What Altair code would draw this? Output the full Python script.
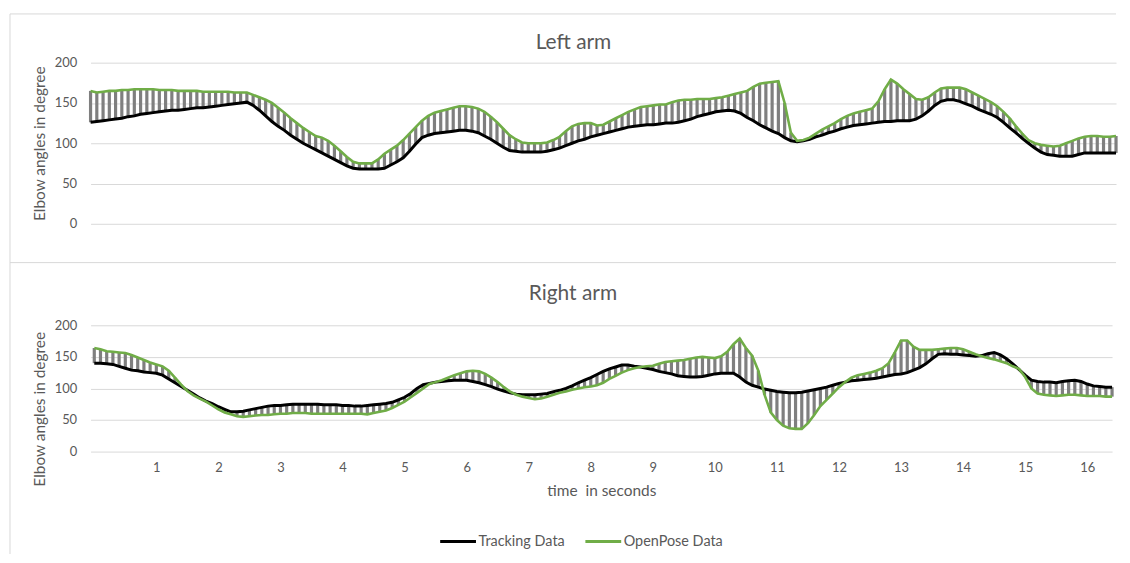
import altair as alt
import pandas as pd

# sampling grid (seconds)
time_s = [i / 10 for i in range(165)]

left_tracking = [
    126, 127, 128, 129, 130, 131, 133, 134, 136, 137,
    138, 139, 140, 141, 141, 142, 143, 144, 144, 145,
    146, 147, 148, 149, 150, 151, 147, 141, 134, 127,
    121, 116, 110, 105, 100, 96, 92, 88, 84, 80,
    76, 72, 69, 68, 68, 68, 68, 69, 73, 77,
    82, 90, 99, 107, 110, 112, 113, 114, 115, 116,
    116, 115, 113, 109, 105, 100, 95, 91, 90, 89,
    89, 89, 89, 90, 92, 94, 97, 100, 103, 105,
    108, 110, 112, 114, 116, 118, 120, 121, 122, 123,
    123, 124, 125, 125, 126, 128, 130, 133, 135, 137,
    139, 140, 141, 140, 137, 132, 128, 123, 119, 115,
    112, 107, 103, 102, 103, 105, 108, 110, 113, 115,
    118, 120, 122, 123, 124, 125, 126, 127, 127, 128,
    128, 128, 130, 134, 140, 147, 152, 154, 154, 152,
    149, 146, 142, 139, 136, 132, 126, 119, 113, 106,
    100, 94, 89, 86, 85, 84, 84, 84, 86, 88,
    88, 88, 88, 88, 88,
]

left_openpose = [
    165, 163, 164, 165, 165, 166, 166, 167, 167, 167,
    167, 166, 166, 166, 165, 165, 165, 165, 164, 164,
    164, 164, 164, 163, 163, 163, 160, 157, 154, 150,
    144, 138, 131, 125, 119, 114, 109, 107, 103, 97,
    90, 83, 77, 75, 75, 75, 80, 87, 92, 97,
    104, 112, 120, 128, 134, 138, 140, 142, 144, 146,
    146, 145, 143, 139, 133, 126, 118, 110, 105, 101,
    100, 100, 100, 101, 104, 108, 115, 121, 124, 125,
    125, 122, 123, 127, 131, 135, 139, 142, 145, 146,
    147, 148, 148, 151, 153, 154, 154, 155, 155, 155,
    156, 157, 159, 161, 163, 165, 170, 174, 175, 176,
    177, 150, 113, 103, 104, 107, 112, 117, 121, 125,
    130, 134, 137, 139, 141, 143, 152, 167, 179, 174,
    167, 161, 155, 154, 157, 163, 168, 169, 169, 169,
    167, 163, 159, 155, 151, 146, 139, 131, 121, 112,
    104, 100, 98, 97, 96, 97, 100, 103, 106, 108,
    109, 109, 108, 108, 109,
]

right_tracking = [
    140, 140, 139, 138, 135, 132, 129, 128, 126, 125,
    124, 121, 115, 109, 103, 97, 91, 85, 80, 76,
    71, 67, 63, 63, 64, 66, 68, 70, 72, 73,
    73, 74, 75, 75, 75, 75, 75, 74, 74, 74,
    73, 73, 72, 72, 73, 74, 75, 76, 78, 82,
    86, 92, 100, 106, 108, 110, 111, 112, 113, 113,
    113, 111, 109, 106, 103, 99, 96, 93, 91, 90,
    90, 90, 91, 92, 95, 97, 100, 104, 109, 113,
    117, 122, 127, 131, 134, 137, 137, 135, 134, 132,
    130, 127, 125, 123, 120, 119, 118, 118, 119, 121,
    123, 124, 124, 124, 118, 110, 105, 102, 99, 97,
    95, 94, 93, 93, 94, 96, 98, 100, 102, 105,
    108, 110, 112, 113, 114, 115, 116, 118, 120, 122,
    123, 125, 129, 133, 139, 147, 154, 155, 154, 154,
    153, 152, 151, 152, 155, 157, 153, 147, 139, 130,
    121, 113, 111, 110, 110, 109, 111, 112, 113, 111,
    107, 104, 103, 102, 102,
]

right_openpose = [
    164, 162, 159, 158, 157, 156, 153, 149, 145, 141,
    138, 135, 128, 117, 106, 96, 89, 84, 79, 73,
    67, 62, 59, 56, 55, 56, 57, 58, 58, 59,
    60, 60, 61, 61, 61, 60, 60, 60, 60, 60,
    60, 60, 60, 60, 59, 61, 63, 65, 69, 74,
    79, 86, 93, 100, 107, 110, 113, 117, 121, 124,
    127, 128, 127, 123, 117, 110, 102, 95, 90, 87,
    85, 83, 84, 87, 90, 93, 95, 98, 100, 102,
    103, 105, 109, 115, 120, 125, 129, 132, 134, 135,
    136, 139, 142, 143, 144, 145, 147, 149, 150, 149,
    148, 151, 158, 170, 179, 164, 152, 128, 90, 62,
    50, 41, 37, 36, 36, 45, 58, 72, 82, 92,
    102, 110, 117, 121, 123, 125, 128, 132, 140, 157,
    176, 176, 166, 161, 161, 161, 162, 163, 164, 164,
    162, 158, 154, 151, 148, 146, 143, 140, 135, 131,
    118, 100, 92, 90, 89, 88, 89, 90, 90, 89,
    88, 88, 88, 87, 87,
]

series_names = ["Tracking Data", "OpenPose Data"]
series_colors = ["#000000", "#70ad47"]
y_ticks = [0, 50, 100, 150, 200]
x_ticks = list(range(1, 17))

TEXT = "#595959"
GRID = "#d9d9d9"
FONT = "Lato"

color = alt.Color(
    "series:N",
    scale=alt.Scale(domain=series_names, range=series_colors),
    legend=alt.Legend(
        title=None, orient="none", legendX=350, legendY=462, direction="horizontal",
        symbolType="stroke", symbolSize=1296, symbolStrokeWidth=3,
        labelFontSize=14.5, labelFont=FONT, labelColor=TEXT,
        columnPadding=14, labelOffset=1, padding=0,
    ),
)


def panel(track, pose, title, width, height, x_domain, x_axis, y_axis, t_offset, t_dx, extra):
    wide = pd.DataFrame({"t": time_s, "track": track, "pose": pose})
    tr = pd.DataFrame({"t": time_s, "angle": track, "series": series_names[0]})
    op = pd.DataFrame({"t": time_s, "angle": pose, "series": series_names[1]})
    x = alt.X("t:Q", scale=alt.Scale(domain=x_domain, nice=False, zero=False), axis=x_axis)
    ys = alt.Scale(domain=[0, 200], nice=False)
    rules = alt.Chart(wide).mark_rule(color="#7f7f7f", strokeWidth=3.2).encode(
        x=x, y=alt.Y("track:Q", scale=ys, axis=y_axis), y2="pose:Q"
    )
    l1 = alt.Chart(tr).mark_line(strokeWidth=3).encode(
        x=x, y=alt.Y("angle:Q", scale=ys, axis=y_axis), color=color
    )
    l2 = alt.Chart(op).mark_line(strokeWidth=2.6).encode(
        x=x, y=alt.Y("angle:Q", scale=ys, axis=y_axis), color=color
    )
    return alt.layer(rules, l1, l2, *extra).properties(
        width=width, height=height,
        title=alt.TitleParams(
            title, fontSize=21, font=FONT, fontWeight="normal", color=TEXT,
            anchor="middle", frame="group", baseline="middle", offset=t_offset, dx=t_dx,
        ),
    )


def y_axis(title_y=None):
    kw = dict(
        values=y_ticks, title="Elbow angles in degree", grid=True, gridColor=GRID,
        domain=False, ticks=False, tickSize=0, labelPadding=14, labelFontSize=13,
        labelFont=FONT, labelColor=TEXT, titleFont=FONT, titleFontSize=15.5,
        titleFontWeight="normal", titleColor=TEXT, titlePadding=7,
    )
    if title_y is not None:
        kw["titleY"] = title_y
    return alt.Axis(**kw)


frame_data = pd.DataFrame({"k": [0]})
frame = alt.Chart(frame_data).mark_rule(color=GRID, strokeWidth=1)
top_border = frame.encode(x=alt.value(-81), x2=alt.value(1031), y=alt.value(-49))
separator = frame.encode(x=alt.value(-81), x2=alt.value(1031), y=alt.value(201))
left_border = frame.encode(x=alt.value(-81), y=alt.value(-49), y2=alt.value(494))

top = panel(
    left_tracking, left_openpose, "Left arm", 1031, 162, [0, 16.4], None, y_axis(),
    -51, -30, [top_border, separator, left_border],
)

bottom_x_axis = alt.Axis(
    values=x_ticks, format="d", grid=False, domain=False, ticks=False, tickSize=0,
    labelPadding=10, labelFontSize=13, labelFont=FONT, labelColor=TEXT,
    title="time \u00a0in seconds", titleFont=FONT, titleFontSize=15.5, titleFontWeight="normal",
    titleColor=TEXT, titlePadding=9,
)

bottom = panel(
    right_tracking, right_openpose, "Right arm", 1027, 127, [-0.06, 16.4], bottom_x_axis,
    y_axis(84), 4.5, -28.5, [],
)

chart = (
    alt.vconcat(top, bottom, spacing=102, bounds="flush")
    .properties(padding={"left": 1, "top": 3.5, "right": 0, "bottom": 0}, background="white")
    .configure_view(stroke=None)
)

chart.save("out.html", embed_options={"renderer": "svg", "actions": False})
